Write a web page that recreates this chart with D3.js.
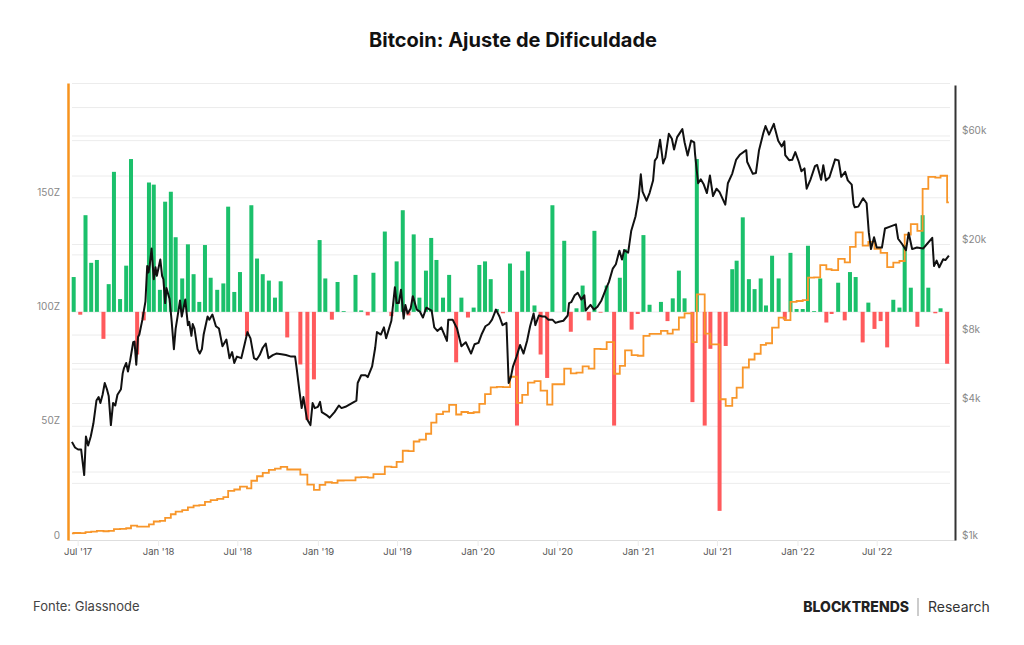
<!DOCTYPE html>
<html>
<head>
<meta charset="utf-8">
<script src="https://cdn.jsdelivr.net/npm/d3@7"></script>
<style>
  body { margin: 0; background: #fff; }
  svg { display: block; font-family: Inter, "Noto Sans", sans-serif; }
</style>
</head>
<body>
<svg id="chart" width="1024" height="645"></svg>
<script>
// difficulty adjustments (date, % change)
const adjDates = [
  "2017-06-22","2017-07-07","2017-07-19","2017-08-01","2017-08-14","2017-08-29","2017-09-10","2017-09-22","2017-10-06","2017-10-20",
  "2017-10-31","2017-11-14","2017-11-29","2017-12-11","2017-12-22","2018-01-05","2018-01-17","2018-01-30","2018-02-10","2018-02-25",
  "2018-03-10","2018-03-23","2018-04-05","2018-04-18","2018-05-01","2018-05-16","2018-05-30","2018-06-10","2018-06-24","2018-07-07",
  "2018-07-23","2018-08-02","2018-08-15","2018-08-28","2018-09-11","2018-09-25","2018-10-08","2018-10-23","2018-11-22","2018-12-08",
  "2018-12-23","2019-01-05","2019-01-18","2019-02-02","2019-02-15","2019-03-01","2019-03-28","2019-04-10","2019-04-25","2019-05-08",
  "2019-06-03","2019-06-18","2019-06-30","2019-07-14","2019-07-27","2019-08-08","2019-08-21","2019-09-05","2019-09-17","2019-09-29",
  "2019-10-14","2019-10-28","2019-11-13","2019-11-25","2019-12-10","2019-12-23","2020-01-05","2020-01-18","2020-01-31","2020-02-14",
  "2020-02-28","2020-03-15","2020-03-31","2020-04-12","2020-04-25","2020-05-10","2020-05-24","2020-06-08","2020-06-20","2020-07-17",
  "2020-08-01","2020-08-14","2020-08-28","2020-09-11","2020-09-24","2020-10-08","2020-10-22","2020-11-08","2020-11-21","2020-12-03",
  "2020-12-18","2021-01-01","2021-01-14","2021-01-28","2021-02-23","2021-03-10","2021-03-22","2021-04-05","2021-04-18","2021-05-06",
  "2021-05-16","2021-06-03","2021-06-16","2021-07-07","2021-07-21","2021-08-05","2021-08-15","2021-08-29","2021-09-12","2021-09-25",
  "2021-10-09","2021-10-21","2021-11-04","2021-11-19","2021-12-03","2021-12-16","2021-12-30","2022-01-13","2022-01-25","2022-02-08",
  "2022-02-22","2022-03-08","2022-03-20","2022-04-04","2022-04-19","2022-05-01","2022-05-14","2022-05-30","2022-06-12","2022-06-26",
  "2022-07-10","2022-07-25","2022-08-08","2022-08-22","2022-09-03","2022-09-17","2022-10-02","2022-10-14","2022-10-27","2022-11-12",
  "2022-11-24","2022-12-09"
];
const adjChange = [
  4.9,-0.4,13.6,6.9,7.3,-3.8,3.9,19.7,1.8,6.5,
  21.5,-6.0,-1.2,18.2,17.9,3.1,15.5,16.9,10.5,4.7,
  9.5,5.3,1.4,9.4,4.8,3.1,4.0,14.8,2.8,5.6,
  -3.4,15.0,7.5,5.3,4.4,2.0,4.3,-3.6,-7.4,-15.2,
  -9.5,10.1,4.7,-1.1,4.2,0.1,5.2,0.2,-0.5,5.5,
  11.3,-0.6,7.1,14.3,-0.5,10.9,2.0,5.8,10.4,7.3,
  2.0,5.2,-7.1,2.0,-0.8,0.6,6.6,7.1,4.6,0.4,
  -0.2,6.8,-16.0,5.8,8.5,0.9,-6.0,-9.3,15.0,10.0,
  -2.8,0.5,3.7,-1.2,11.4,-0.1,3.7,-16.0,4.8,8.8,
  -2.5,-0.3,10.8,1.0,1.4,-1.3,1.9,5.8,1.9,-12.7,
  21.5,-16.0,-5.2,-28.0,-4.8,6.0,7.2,13.3,4.6,3.2,
  4.7,0.9,7.9,4.7,-1.1,8.3,0.4,0.4,9.3,0.1,
  4.7,-1.5,-0.3,4.1,-1.2,5.6,4.9,-4.3,1.3,-2.4,
  -1.3,-5.0,1.7,0.6,9.4,3.4,-2.1,13.6,3.4,-0.2,
  0.5,-7.3
];

// difficulty (in Z hashes): value before first adjustment, then after each one
const diffStart = "2017-06-18";
const diffEnd = "2022-12-13";
const difficulty = [
  2.92,3.06,3.05,3.46,3.70,3.97,3.82,3.97,4.75,4.84,5.15,
  6.26,5.88,5.81,6.87,8.10,8.35,9.64,11.27,12.45,13.04,
  14.28,15.04,15.25,16.68,17.48,18.02,18.74,21.51,22.11,23.35,
  22.56,25.94,27.89,29.37,30.66,31.27,32.0,30.85,28.57,24.22,
  21.92,24.13,25.27,24.99,26.04,26.07,27.42,27.48,27.34,28.84,
  32.10,31.91,34.18,39.06,38.87,43.10,43.96,46.51,51.35,55.10,
  56.20,59.12,54.92,56.02,55.57,55.91,59.60,63.83,66.77,67.03,
  66.90,71.45,60.02,63.50,68.90,69.52,65.35,59.27,68.16,74.98,
  72.88,73.24,75.95,75.04,83.60,83.52,86.61,72.75,76.24,82.95,
  80.88,80.64,89.35,90.24,91.50,90.31,92.03,97.37,99.22,86.62,
  107.5,90.3,85.6,61.6,58.7,62.2,66.7,75.5,79.0,81.5,
  85.4,86.1,92.9,97.3,96.2,104.2,104.6,105.0,114.8,114.9,
  120.3,118.5,118.1,123.0,121.5,128.3,134.6,128.8,130.5,127.4,
  125.7,119.4,121.4,122.1,133.6,138.2,135.3,153.7,158.9,158.6,
  159.4,147.8
];

// BTC price (USD)
const priceDates = [
  "2017-06-18","2017-06-25","2017-07-02","2017-07-09","2017-07-16","2017-07-20","2017-07-25","2017-07-31","2017-08-06","2017-08-13",
  "2017-08-18","2017-08-22","2017-08-27","2017-09-01","2017-09-06","2017-09-10","2017-09-15","2017-09-20","2017-09-25","2017-09-30",
  "2017-10-08","2017-10-12","2017-10-15","2017-10-20","2017-10-24","2017-10-29","2017-11-05","2017-11-08","2017-11-12","2017-11-16",
  "2017-11-19","2017-11-26","2017-12-03","2017-12-07","2017-12-10","2017-12-13","2017-12-17","2017-12-22","2017-12-26","2017-12-29",
  "2018-01-06","2018-01-10","2018-01-13","2018-01-17","2018-01-20","2018-01-27","2018-02-01","2018-02-06","2018-02-10","2018-02-14",
  "2018-02-20","2018-02-24","2018-03-04","2018-03-10","2018-03-13","2018-03-18","2018-03-21","2018-03-25","2018-04-01","2018-04-06",
  "2018-04-11","2018-04-15","2018-04-24","2018-04-28","2018-05-05","2018-05-13","2018-05-20","2018-05-28","2018-06-06","2018-06-13",
  "2018-06-19","2018-06-24","2018-06-30","2018-07-10","2018-07-18","2018-07-24","2018-07-31","2018-08-08","2018-08-14","2018-08-21",
  "2018-08-28","2018-09-04","2018-09-10","2018-09-20","2018-09-28","2018-10-10","2018-10-20","2018-11-01","2018-11-10","2018-11-14",
  "2018-11-20","2018-11-25","2018-11-29","2018-12-07","2018-12-15","2018-12-20","2018-12-25","2019-01-01","2019-01-06","2019-01-10",
  "2019-01-20","2019-01-28","2019-02-08","2019-02-18","2019-02-24","2019-03-05","2019-03-15","2019-03-30","2019-04-02","2019-04-10",
  "2019-04-20","2019-04-25","2019-05-05","2019-05-12","2019-05-16","2019-05-25","2019-06-01","2019-06-06","2019-06-18","2019-06-26",
  "2019-06-30","2019-07-05","2019-07-10","2019-07-16","2019-07-20","2019-07-25","2019-08-01","2019-08-06","2019-08-15","2019-08-22",
  "2019-08-29","2019-09-06","2019-09-18","2019-09-24","2019-10-01","2019-10-10","2019-10-23","2019-10-26","2019-11-05","2019-11-15",
  "2019-11-25","2019-12-05","2019-12-17","2019-12-25","2020-01-03","2020-01-10","2020-01-19","2020-01-27","2020-02-03","2020-02-12",
  "2020-02-20","2020-02-27","2020-03-07","2020-03-12","2020-03-17","2020-03-22","2020-03-30","2020-04-07","2020-04-15","2020-04-23",
  "2020-04-30","2020-05-08","2020-05-12","2020-05-20","2020-05-28","2020-06-03","2020-06-11","2020-06-20","2020-06-27","2020-07-05",
  "2020-07-15","2020-07-25","2020-07-28","2020-08-02","2020-08-10","2020-08-17","2020-08-25","2020-09-01","2020-09-04","2020-09-15",
  "2020-09-23","2020-10-01","2020-10-10","2020-10-21","2020-10-27","2020-11-05","2020-11-12","2020-11-20","2020-11-26","2020-12-01",
  "2020-12-10","2020-12-17","2020-12-27","2021-01-03","2021-01-08","2021-01-12","2021-01-21","2021-01-28","2021-02-05","2021-02-09",
  "2021-02-14","2021-02-21","2021-02-28","2021-03-05","2021-03-13","2021-03-20","2021-03-25","2021-04-01","2021-04-13","2021-04-18",
  "2021-04-25","2021-05-03","2021-05-10","2021-05-12","2021-05-19","2021-05-25","2021-06-01","2021-06-08","2021-06-15","2021-06-22",
  "2021-06-30","2021-07-07","2021-07-20","2021-07-26","2021-08-05","2021-08-14","2021-08-23","2021-09-06","2021-09-08","2021-09-21",
  "2021-09-28","2021-10-05","2021-10-15","2021-10-20","2021-10-28","2021-11-08","2021-11-10","2021-11-18","2021-11-26","2021-12-02",
  "2021-12-04","2021-12-13","2021-12-20","2021-12-27","2022-01-04","2022-01-10","2022-01-17","2022-01-22","2022-01-31","2022-02-10",
  "2022-02-15","2022-02-24","2022-03-01","2022-03-07","2022-03-15","2022-03-28","2022-04-05","2022-04-11","2022-04-20","2022-04-26",
  "2022-05-05","2022-05-09","2022-05-12","2022-05-20","2022-05-31","2022-06-08","2022-06-13","2022-06-18","2022-06-25","2022-07-01",
  "2022-07-13","2022-07-20","2022-07-30","2022-08-14","2022-08-19","2022-08-28","2022-09-06","2022-09-12","2022-09-20","2022-10-01",
  "2022-10-15","2022-10-25","2022-11-05","2022-11-09","2022-11-15","2022-11-21","2022-11-30","2022-12-05","2022-12-13"
];
const priceValues = [
  2700,2550,2500,2500,1930,2850,2600,2850,3250,4100,
  4250,4000,4350,4900,4600,4300,3200,4000,3900,4350,
  4600,5400,5700,6000,5500,6150,7400,7450,5900,7800,
  8000,9300,11200,16000,15000,16300,19100,14000,15800,14500,
  17100,14500,14000,11000,12800,11500,9100,6900,8500,9500,
  11300,9600,11400,8800,9100,7900,8900,8500,6900,6600,
  6900,8000,9600,9300,9800,8700,8500,7100,7600,6300,
  6700,6000,6400,6300,7300,8200,7700,6300,6200,6500,
  7000,7300,6300,6500,6600,6550,6500,6400,6400,5600,
  4500,3800,4250,3400,3200,4000,3800,3850,4050,3650,
  3550,3450,3650,3900,3800,3850,3950,4100,4900,5300,
  5300,5200,5800,7000,8200,8000,8600,7700,9200,12900,
  11000,11000,12600,9400,10800,9900,10400,11800,10300,10100,
  9500,10500,10200,8600,8300,8600,7500,9300,9300,8500,
  7100,7400,6600,7250,7350,8000,8700,8900,9300,10300,
  9600,8800,9000,4900,5200,5800,6400,7200,6600,7500,
  8700,9900,8800,9700,9600,9600,9300,9300,9000,9100,
  9200,9700,11000,11100,11900,12200,11400,11900,10200,10800,
  10300,10600,11300,12800,13600,15600,16300,18700,17100,18800,
  18300,22800,26500,32000,40500,34000,31000,33500,38000,46500,
  48000,57500,45200,48000,61000,58000,52000,59000,64000,56000,
  49000,57000,56000,49500,37000,38500,36500,33500,40000,32500,
  35000,33800,29800,37000,40800,47000,49500,51700,46000,40700,
  41000,51500,61500,66000,60500,67500,65000,56900,53700,56500,
  49200,46700,46900,50700,46000,41800,43000,35000,38500,44000,
  44500,38300,44400,38000,39300,47100,46600,39500,41500,38100,
  36500,30100,29000,29200,31800,30200,22500,19000,21400,19300,
  19300,23400,23800,24400,21100,20000,18800,22400,19000,19300,
  19100,20100,21300,16000,16900,15800,17150,17000,17800
];

// axis ticks
const xTicks = ["2017-07-01","2018-01-01","2018-07-01","2019-01-01","2019-07-01","2020-01-01","2020-07-01","2021-01-01","2021-07-01","2022-01-01","2022-07-01"];
const leftTicks = [0, 50, 100, 150];
const leftGrid = [25, 50, 75, 100, 125, 150, 175, 200];
const rightTicks = [1000, 4000, 8000, 20000, 60000];
const rightGrid = [2000, 4000, 6000, 8000, 20000, 40000, 60000, 80000];

const parse = d3.utcParse("%Y-%m-%d");
const svg = d3.select('#chart');

const plot = {left: 68, right: 955, top: 83, bottom: 540};

const x = d3.scaleUtc()
    .domain([parse("2017-06-09"), parse("2022-12-27")])
    .range([plot.left, plot.right]);
const yLeft = d3.scaleLinear().domain([0, 200]).range([plot.bottom, plot.top]);
const yPrice = d3.scaleLog().domain([1000, 100000]).range([plot.bottom, 85]);
const yBar = d3.scaleLinear().domain([-32.1, 32.2]).range([plot.bottom, plot.top]);

// title
svg.append('text')
    .attr('x', 513).attr('y', 47)
    .attr('text-anchor', 'middle')
    .attr('font-size', 20).attr('font-weight', 700).attr('fill', '#111')
    .text('Bitcoin: Ajuste de Dificuldade');

// grid lines
const gridW = 950 - 72;
const gl = svg.append('g').attr('transform', 'translate(72,0)')
    .call(d3.axisLeft(yLeft).tickValues(leftGrid).tickSize(-gridW).tickFormat(''));
const gr = svg.append('g').attr('transform', 'translate(72,0)')
    .call(d3.axisLeft(yPrice).tickValues(rightGrid).tickSize(-gridW).tickFormat(''));
[gl, gr].forEach(g => {
    g.select('.domain').remove();
    g.selectAll('line').attr('stroke', '#ececec').attr('stroke-width', 1);
});

// x axis
const xAxisG = svg.append('g')
    .attr('transform', `translate(0,${plot.bottom})`)
    .call(d3.axisBottom(x).tickValues(xTicks.map(parse)).tickSize(6).tickSizeOuter(0)
        .tickFormat(d3.utcFormat("%b '%y")));
xAxisG.select('.domain').attr('stroke', '#dedede');
xAxisG.selectAll('line').attr('stroke', '#ececec');
xAxisG.selectAll('text').attr('y', 8).attr('fill', '#555').attr('font-size', 9.5)
    .attr('font-family', 'Inter, sans-serif');

// bars
const bars = d3.zip(adjDates, adjChange).map(([d, v]) => ({date: parse(d), value: v}));
svg.append('g').selectAll('rect').data(bars)
    .enter().append('rect')
        .attr('x', d => x(d.date) - 2)
        .attr('width', 4)
        .attr('y', d => Math.min(yBar(d.value), yBar(0)))
        .attr('height', d => Math.max(Math.abs(yBar(d.value) - yBar(0)), 0.8))
        .attr('fill', d => d.value >= 0 ? '#1bc06b' : '#ff5a5c');

// difficulty step line
const diffDates = [diffStart, ...adjDates, diffEnd].map(parse);
const diffVals = [...difficulty, difficulty[difficulty.length - 1]];
svg.append('path')
    .datum(d3.zip(diffDates, diffVals))
    .attr('fill', 'none')
    .attr('stroke', '#f8962a')
    .attr('stroke-width', 1.8)
    .attr('d', d3.line().curve(d3.curveStepAfter).x(d => x(d[0])).y(d => yLeft(d[1])));

// price line
svg.append('path')
    .datum(d3.zip(priceDates.map(parse), priceValues))
    .attr('fill', 'none')
    .attr('stroke', '#111')
    .attr('stroke-width', 2)
    .attr('stroke-linejoin', 'round')
    .attr('d', d3.line().x(d => x(d[0])).y(d => yPrice(d[1])));

// left axis
const leftAxisG = svg.append('g')
    .attr('transform', `translate(${plot.left},0)`)
    .call(d3.axisLeft(yLeft).tickValues(leftTicks).tickSize(0).tickPadding(8)
        .tickFormat(d => d === 0 ? '0' : d + 'Z'));
leftAxisG.select('.domain').attr('stroke', '#f7931e').attr('stroke-width', 2.5);
leftAxisG.selectAll('text').attr('dy', null).attr('y', -2)
    .attr('fill', '#888').attr('font-size', 10).attr('font-family', 'Inter, sans-serif');

// right axis
const rightAxisG = svg.append('g')
    .attr('transform', `translate(${plot.right},0)`)
    .call(d3.axisRight(yPrice).tickValues(rightTicks).tickSize(0).tickPadding(7)
        .tickFormat(d => '$' + d / 1000 + 'k'));
rightAxisG.select('.domain').attr('stroke', '#333').attr('stroke-width', 2);
rightAxisG.selectAll('text').attr('dy', null).attr('y', -2)
    .attr('fill', '#888').attr('font-size', 10).attr('font-family', 'Inter, sans-serif');

// footer
svg.append('text')
    .attr('x', 33).attr('y', 611)
    .attr('font-size', 13).attr('fill', '#444')
    .text('Fonte: Glassnode');
svg.append('text')
    .attr('x', 909).attr('y', 612)
    .attr('text-anchor', 'end')
    .attr('font-size', 14).attr('font-weight', 800).attr('fill', '#222')
    .text('BLOCKTRENDS');
svg.append('line')
    .attr('x1', 918).attr('x2', 918).attr('y1', 598).attr('y2', 616)
    .attr('stroke', '#999').attr('stroke-width', 1);
svg.append('text')
    .attr('x', 928).attr('y', 612)
    .attr('font-size', 14).attr('fill', '#333')
    .text('Research');
</script>
</body>
</html>
